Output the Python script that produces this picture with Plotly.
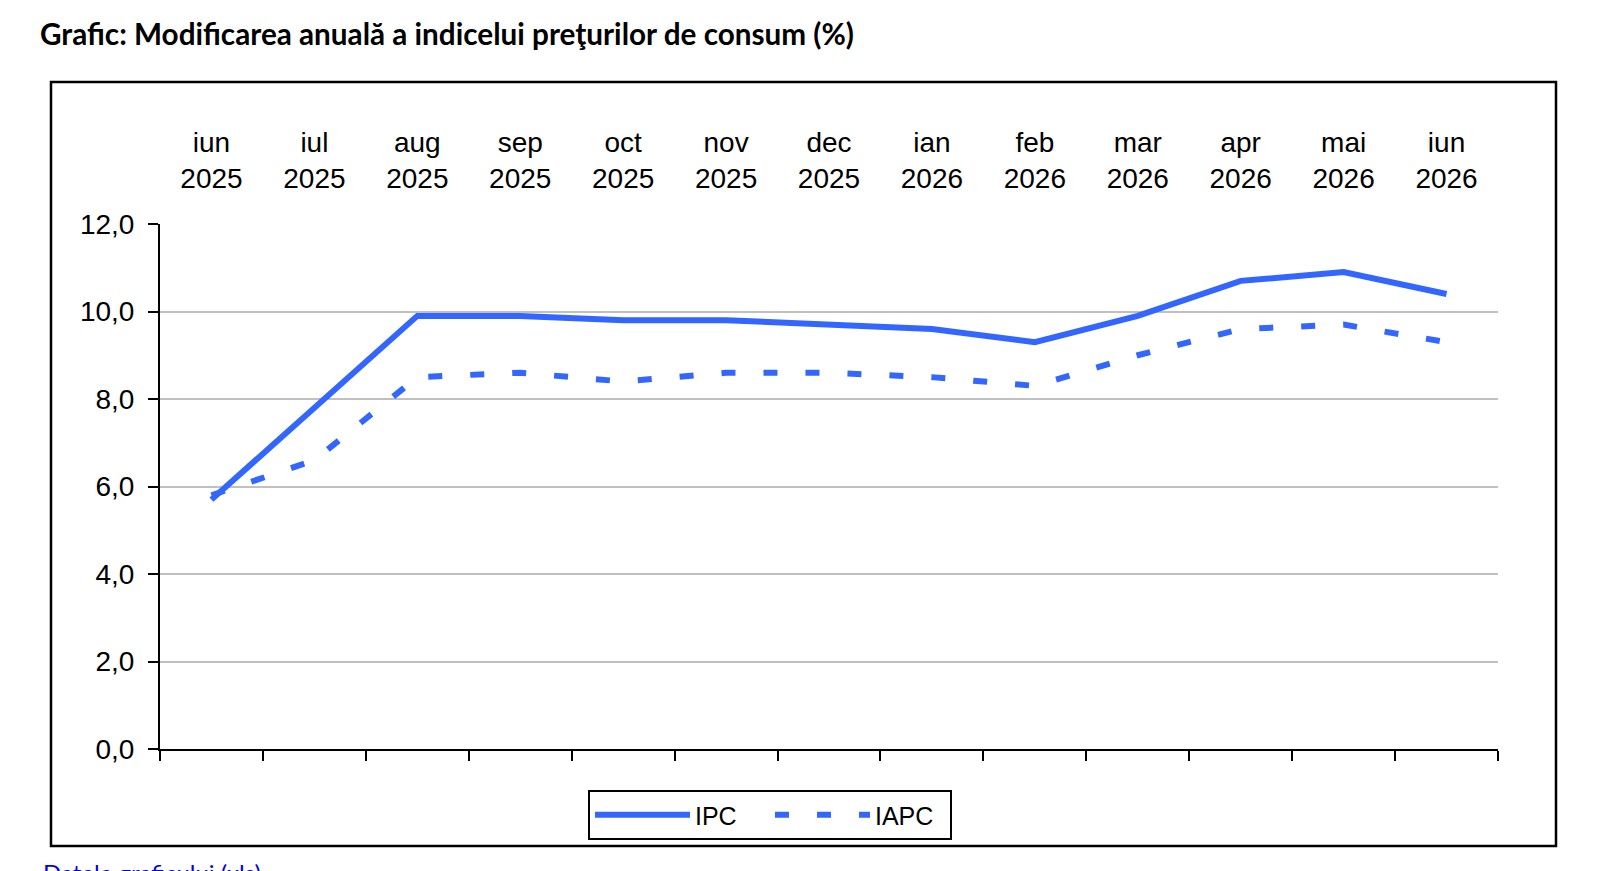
import plotly.graph_objects as go

months = ["iun<br>2025", "iul<br>2025", "aug<br>2025", "sep<br>2025", "oct<br>2025", "nov<br>2025",
          "dec<br>2025", "ian<br>2026", "feb<br>2026", "mar<br>2026", "apr<br>2026", "mai<br>2026",
          "iun<br>2026"]
ipc = [5.7, 7.8, 9.9, 9.9, 9.8, 9.8, 9.7, 9.6, 9.3, 9.9, 10.7, 10.9, 10.4]
iapc = [5.8, 6.6, 8.5, 8.6, 8.4, 8.6, 8.6, 8.5, 8.3, 9.0, 9.6, 9.7, 9.3]
y_ticks = [0, 2, 4, 6, 8, 10, 12]

W, H = 1600, 871
L, R, T, B = 160, 1498, 224, 749
pw, ph = R - L, B - T

def px(x):
    return (x - L) / pw

def py(y):
    return (B - y) / ph

blue = "#3366FF"
font = "Liberation Sans, Arial, sans-serif"

fig = go.Figure()
fig.add_trace(go.Scatter(x=months, y=ipc, name="IPC", mode="lines",
                         line=dict(color=blue, width=6), xaxis="x", yaxis="y"))
fig.add_trace(go.Scatter(x=months, y=iapc, name="IAPC", mode="lines",
                         line=dict(color=blue, width=6, dash="14px,28px"), xaxis="x", yaxis="y"))
# invisible trace for top category labels
fig.add_trace(go.Scatter(x=months, y=ipc, mode="lines", line=dict(color="rgba(0,0,0,0)"),
                         showlegend=False, hoverinfo="skip", xaxis="x2", yaxis="y"))

fig.update_layout(
    width=W, height=H,
    margin=dict(l=L, r=W - R, t=T, b=H - B),
    paper_bgcolor="white", plot_bgcolor="white",
    separators=",.",
    font=dict(family=font, size=27, color="black"),
    title=dict(text="<b>Grafic: Modificarea anuală a indicelui preţurilor de consum (%)</b>",
               font=dict(family="Lato, sans-serif", size=29.7, color="black"),
               xref="container", yref="container", x=40 / W, xanchor="left",
               y=1 - 35 / H, yanchor="middle"),
    xaxis=dict(type="category", range=[-0.5, 12.5], showticklabels=False,
               tickson="boundaries", ticks="outside", ticklen=10, tickwidth=2, tickcolor="black",
               showline=True, linecolor="black", linewidth=2, showgrid=False, zeroline=False,
               fixedrange=True),
    xaxis2=dict(type="category", range=[-0.5, 12.5], overlaying="x", side="top",
                showline=False, ticks="", showgrid=False, zeroline=False,
                tickfont=dict(family=font, size=28), ticklabelstandoff=29, fixedrange=True),
    yaxis=dict(range=[0, 12], tickvals=y_ticks, tickformat=".1f",
               ticks="outside", ticklen=10, tickwidth=2, tickcolor="black",
               showline=True, linecolor="black", linewidth=2,
               showgrid=True, gridcolor="#c0c0c0", gridwidth=2, zeroline=False,
               tickfont=dict(family=font, size=28), ticklabelstandoff=8, fixedrange=True),
    legend=dict(orientation="h", x=px(770), xanchor="center", y=py(815), yanchor="middle",
                bordercolor="black", borderwidth=2, bgcolor="white",
                font=dict(family=font, size=25), itemwidth=95, entrywidth=70,
                tracegroupgap=0),
    showlegend=True,
)

fig.add_shape(type="rect", xref="paper", yref="paper",
              x0=px(51), x1=px(1556), y0=py(846), y1=py(82),
              line=dict(color="black", width=2.5), fillcolor="rgba(0,0,0,0)", layer="below")

fig.add_annotation(text="<u>Datele graficului (xls)</u>", xref="paper", yref="paper",
                   x=px(41), xanchor="left", y=py(856), yanchor="top", showarrow=False,
                   font=dict(family="Lato, sans-serif", size=24, color="#0000EE"))

fig.write_html("out.html")
